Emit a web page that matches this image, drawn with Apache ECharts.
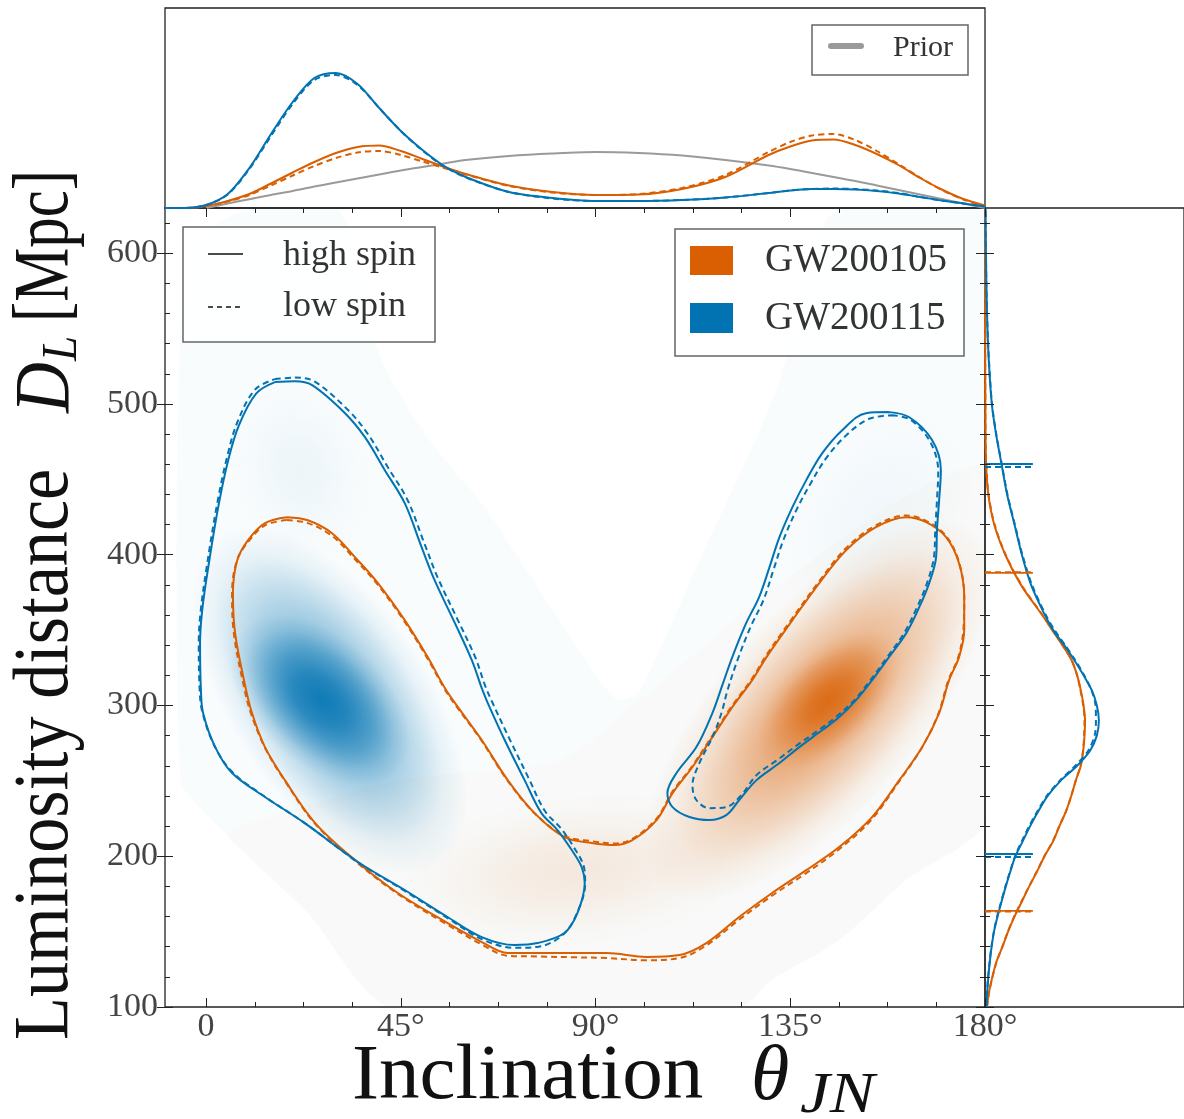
<!DOCTYPE html>
<html>
<head>
<meta charset="utf-8">
<script src="https://cdn.jsdelivr.net/npm/echarts@6/dist/echarts.min.js"></script>
<style>
  html, body { margin: 0; padding: 0; background: #ffffff; }
  #chart { width: 1184px; height: 1119px; }
</style>
</head>
<body>
<div id="chart"></div>
<script>
// ---------------- axis ticks ----------------
const xTickValues = [0, 45, 90, 135, 180];
const xTickLabels = ['0', '45°', '90°', '135°', '180°'];
const xMinorTicks = [11.25, 22.5, 33.75, 56.25, 67.5, 78.75, 101.25, 112.5, 123.75, 146.25, 157.5, 168.75];
const yTickValues = [100, 200, 300, 400, 500, 600];
const yTickLabels = ['100', '200', '300', '400', '500', '600'];
const yMinorTicks = [120, 140, 160, 180, 220, 240, 260, 280, 320, 340, 360, 380, 420, 440, 460, 480, 520, 540, 560, 580, 620];

// ---------------- 90% credible contours [theta_JN (deg), D_L (Mpc)] ----------------
const gw200115HighLeft = [[15.9,514.5],[20.5,515.1],[24.5,512.5],[32.1,493.9],[36.7,478.0],[41.3,456.1],[45.9,434.2],[49.8,405.0],[52.8,383.1],[57.5,354.6],[61.4,330.1],[63.7,311.5],[65.1,301.6],[69.0,277.1],[73.6,250.5],[77.5,228.6],[81.2,217.4],[84.5,204.1],[86.8,192.8],[87.5,182.2],[85.8,162.3],[82.8,149.1],[76.6,142.4],[71.3,141.1],[63.7,146.4],[55.8,159.7],[45.9,177.6],[35.1,196.2],[22.8,222.0],[13.6,239.3],[6.0,255.2],[2.1,272.4],[-0.7,295.0],[-1.2,310.2],[-1.4,341.4],[-0.9,363.3],[0.5,391.8],[2.8,431.6],[5.1,462.7],[7.6,486.0],[11.6,507.0]];
const gw200115LowLeft = [[15.9,516.5],[20.5,517.5],[25.0,515.0],[32.8,496.0],[37.4,480.0],[42.0,458.0],[46.6,436.0],[50.5,407.0],[53.5,385.0],[58.2,356.5],[62.2,332.0],[64.5,313.0],[66.0,303.0],[70.0,278.5],[74.5,252.0],[78.3,230.0],[82.0,218.5],[85.2,205.0],[87.3,193.0],[87.6,182.0],[85.5,161.0],[82.3,147.5],[76.8,140.0],[71.3,139.3],[63.7,145.0],[55.8,159.0],[45.9,177.0],[35.1,196.0],[22.8,222.0],[13.6,239.5],[6.0,256.0],[1.8,274.0],[-0.9,296.0],[-1.5,311.0],[-1.7,342.0],[-1.2,364.0],[0.2,393.0],[2.5,433.0],[4.9,465.5],[7.3,488.5],[11.3,509.5]];
const gw200115HighRight = [[157.8,494.6],[162.5,491.2],[167.8,476.0],[169.8,456.1],[169.4,436.2],[168.9,416.3],[168.7,398.4],[167.1,381.2],[164.8,365.2],[161.8,348.0],[157.8,332.1],[153.9,316.8],[150.2,303.6],[146.3,292.3],[142.4,283.7],[137.1,272.4],[132.5,261.8],[127.2,250.5],[123.2,237.3],[120.2,227.3],[116.3,224.0],[111.7,226.0],[107.8,232.6],[106.6,241.9],[108.7,255.2],[113.3,272.4],[117.0,295.0],[119.3,313.5],[121.6,332.1],[124.8,354.6],[127.8,371.9],[130.2,391.8],[132.5,411.7],[135.5,431.6],[138.7,449.5],[142.4,467.4],[147.0,482.6],[152.5,493.9]];
const gw200115LowRight = [[158.5,492.6],[162.9,489.3],[167.5,474.0],[169.2,454.8],[168.9,436.2],[168.5,416.3],[168.2,398.4],[166.6,381.2],[164.3,365.2],[161.3,348.0],[157.4,332.1],[153.5,316.8],[149.8,303.6],[145.8,293.0],[141.9,284.4],[136.6,273.7],[132.0,263.8],[127.2,253.8],[123.7,240.6],[120.2,232.6],[116.3,231.9],[113.3,237.3],[112.4,247.2],[114.0,261.8],[117.0,279.0],[119.1,295.0],[120.5,310.2],[122.8,330.1],[125.8,352.0],[128.8,369.9],[131.1,389.8],[133.4,409.7],[136.4,429.6],[139.6,446.8],[143.3,464.1],[147.7,478.6],[153.0,489.9]];
const gw200105High = [[18.7,424.9],[23.5,422.9],[29.1,414.3],[34.4,398.4],[39.7,381.2],[45.9,356.6],[51.2,332.1],[55.2,311.5],[58.2,298.9],[63.7,277.1],[69.7,250.5],[75.9,228.6],[82.8,212.7],[89.1,208.8],[94.4,207.4],[98.5,210.7],[104.1,224.0],[107.8,241.9],[112.4,259.2],[117.0,279.0],[121.6,298.9],[126.2,316.8],[129.5,332.1],[135.5,356.6],[141.7,381.2],[147.9,403.0],[154.8,418.3],[161.8,424.9],[166.4,421.6],[171.0,411.7],[174.0,394.4],[175.2,371.9],[175.2,350.0],[174.0,332.1],[171.7,316.8],[169.4,295.0],[165.5,272.4],[160.2,250.5],[153.9,226.0],[146.3,206.1],[138.7,190.8],[130.8,175.6],[123.2,159.7],[115.6,142.4],[109.4,134.5],[101.8,133.2],[92.5,135.8],[84.7,135.8],[77.1,135.8],[69.7,135.8],[63.7,143.1],[55.8,155.7],[44.3,175.6],[34.4,197.5],[25.2,222.0],[18.2,250.5],[13.6,272.4],[10.6,295.0],[9.0,313.5],[6.7,348.0],[6.2,374.5],[7.2,396.4],[9.7,409.7],[13.6,421.0]];
const gw200105Low = [[18.7,423.0],[23.5,421.0],[29.1,412.5],[34.4,397.0],[39.7,380.0],[45.9,355.5],[51.2,331.0],[55.2,310.5],[58.2,298.0],[63.7,276.5],[69.7,250.0],[75.9,228.5],[82.8,213.5],[89.1,210.0],[94.4,208.5],[98.5,211.5],[104.1,225.0],[107.8,243.0],[112.4,260.0],[117.0,280.0],[121.6,300.0],[126.2,318.0],[129.5,333.5],[135.5,358.0],[141.7,382.5],[147.9,404.5],[154.8,419.5],[161.8,426.0],[166.4,422.5],[171.0,412.5],[174.0,395.0],[175.2,372.0],[175.0,350.0],[173.8,332.0],[171.5,316.5],[169.2,294.5],[165.3,271.5],[160.0,249.0],[153.7,224.0],[146.0,204.0],[138.5,188.5],[130.6,173.5],[123.0,157.5],[115.4,140.5],[109.4,132.5],[101.8,131.0],[92.5,132.5],[84.7,133.0],[77.1,133.5],[69.7,134.0],[63.7,141.5],[55.8,154.5],[44.3,175.0],[34.4,197.0],[25.2,221.5],[18.2,250.0],[13.6,272.0],[10.4,294.5],[8.7,313.0],[6.4,348.0],[6.0,374.5],[7.1,396.0],[9.7,408.5],[13.6,419.5]];

// ---------------- posterior density (support outline + smooth components) ----------------
// outer support of the joint KDE, [theta_JN, D_L]
const gw200115Support = [[-6.0,548.9],[-1.4,608.6],[7.8,627.2],[30.9,627.2],[40.6,529.0],[52.2,474.0],[63.7,434.2],[75.2,385.1],[82.8,352.0],[90.5,318.8],[95.5,303.6],[100.2,310.2],[114.0,396.4],[131.8,509.2],[139.4,588.7],[145.2,627.2],[180,627.2],[180,224.0],[161.8,184.2],[146.3,144.4],[130.8,117.9],[123.2,100],[42.5,100],[23.5,162.3],[-0.2,228.6],[-6.0,250.5]];
const gw200105Support = [[5.5,217.4],[44.8,250.5],[81.7,263.8],[100.2,303.6],[127.8,369.9],[160.2,436.2],[180,456.1],[180,224.0],[161.8,184.2],[146.3,144.4],[130.8,117.9],[123.2,100],[42.5,100],[23.5,162.3],[5.5,210.7]];
// components: [centre theta, centre D_L, axis-tip theta, axis-tip D_L, width ratio, weight]
const gw200115Components = [
  [28.6, 303.6, 54.0, 193.5, 0.50, 0.62],
  [26.3, 303.6, 44.8, 257.2, 0.60, 0.85],
  [21.7, 456.1, 14.8, 515.8, 0.75, 0.05],
  [155.5, 423.0, 170.0, 500.0, 0.70, 0.035]
];
const gw200105Components = [
  [141.7, 297.0, 178.2, 416.3, 0.42, 0.60],
  [144.0, 303.6, 159.0, 343.4, 0.55, 0.80],
  [86.3, 190.8, 127.8, 204.1, 0.42, 0.11]
];

// ---------------- marginal: inclination ----------------
const thetaGrid = [-9.5,-5,0,5,10,15,20,25,30,35,40,45,50,55,60,70,80,90,100,110,120,130,135,140,145,150,155,160,165,170,175,180];
const thetaGW200115High = [0,0,0.03,0.14,0.40,0.74,1.06,1.30,1.35,1.24,1.00,0.77,0.58,0.42,0.31,0.16,0.10,0.07,0.07,0.08,0.105,0.15,0.175,0.19,0.19,0.185,0.17,0.145,0.11,0.075,0.045,0.015];
const thetaGW200115Low  = [0,0,0.03,0.135,0.39,0.72,1.04,1.28,1.33,1.23,1.00,0.77,0.575,0.415,0.305,0.16,0.095,0.07,0.07,0.08,0.105,0.15,0.175,0.19,0.195,0.19,0.175,0.15,0.11,0.075,0.045,0.015];
const thetaGW200105High = [0,0,0.02,0.07,0.14,0.245,0.355,0.46,0.55,0.61,0.625,0.57,0.49,0.41,0.34,0.225,0.16,0.13,0.135,0.19,0.31,0.53,0.615,0.675,0.685,0.63,0.54,0.43,0.30,0.185,0.09,0.025];
const thetaGW200105Low  = [0,0,0.02,0.065,0.13,0.225,0.325,0.42,0.50,0.555,0.57,0.53,0.465,0.40,0.335,0.22,0.155,0.13,0.14,0.20,0.33,0.56,0.66,0.725,0.74,0.68,0.57,0.44,0.305,0.18,0.085,0.02];
const thetaPrior = [null,null,0,0.045,0.088,0.13,0.17,0.215,0.255,0.295,0.335,0.375,0.41,0.445,0.48,0.52,0.545,0.56,0.55,0.525,0.48,0.425,0.39,0.35,0.31,0.27,0.225,0.18,0.135,0.09,0.045,0];

// ---------------- marginal: luminosity distance ----------------
const dlGrid = [100,110,120,130,140,150,160,170,180,190,200,210,220,230,240,250,260,270,280,290,300,310,320,330,340,350,360,380,400,420,440,460,480,500,530,560,600,630];
const dlGW200115High = [0.008,0.012,0.018,0.026,0.036,0.049,0.068,0.09,0.113,0.138,0.165,0.205,0.245,0.29,0.34,0.41,0.50,0.57,0.607,0.618,0.607,0.58,0.535,0.485,0.43,0.37,0.325,0.25,0.20,0.16,0.12,0.09,0.06,0.037,0.02,0.011,0.005,0.003];
const dlGW200115Low  = [0.007,0.011,0.017,0.025,0.035,0.048,0.066,0.088,0.111,0.136,0.163,0.2,0.24,0.285,0.335,0.405,0.49,0.56,0.595,0.602,0.60,0.578,0.538,0.49,0.435,0.378,0.33,0.255,0.203,0.162,0.122,0.091,0.061,0.038,0.021,0.011,0.005,0.003];
const dlGW200105High = [0.01,0.022,0.04,0.062,0.095,0.125,0.16,0.2,0.24,0.283,0.323,0.37,0.404,0.44,0.468,0.492,0.52,0.533,0.54,0.543,0.535,0.52,0.5,0.47,0.42,0.365,0.31,0.195,0.11,0.05,0.018,0.006,0.003,0.002,0.001,0.001,0.001,0];
const dlGW200105Low  = [0.011,0.023,0.041,0.063,0.094,0.124,0.158,0.198,0.239,0.282,0.322,0.368,0.403,0.44,0.468,0.492,0.518,0.532,0.538,0.54,0.533,0.518,0.5,0.47,0.422,0.368,0.312,0.198,0.112,0.052,0.019,0.007,0.003,0.002,0.001,0.001,0.001,0];
// 90% credible bounds on D_L [lower, upper]
const dlIntervalGW200115High = [201.5, 460.2];
const dlIntervalGW200115Low  = [199.5, 458.2];
const dlIntervalGW200105High = [163.7, 388.0];
const dlIntervalGW200105Low  = [163.3, 388.4];

// ---------------- styling ----------------
const ORANGE = '#d95f02', ORANGE_RGB = '217,95,2';
const BLUE = '#0173b2', BLUE_RGB = '1,115,178';
const SERIF = "'Liberation Serif', 'DejaVu Serif', serif";
const AXIS = '#222';
const DASH = [6, 4];
const BAR_LEN = 0.26;   // length of the credible-bound markers on the density axis

const chart = echarts.init(document.getElementById('chart'), null, { renderer: 'canvas' });

const closeLoop = arr => arr.concat([arr[0]]);
const zip = (xs, ys) => xs.map((x, i) => [x, ys[i]]).filter(p => p[1] !== null);
const zipDL = (ds, ys) => ds.map((d, i) => [ys[i], d]);

function contour(name, pts, color, dashed) {
  return {
    name, type: 'line', xAxisIndex: 0, yAxisIndex: 0, data: closeLoop(pts),
    smooth: 0.35, showSymbol: false, symbol: 'none', clip: false, silent: true, z: 5,
    lineStyle: { color, width: 2, type: dashed ? DASH : 'solid' }
  };
}
function topCurve(name, ys, color, dashed, width) {
  return {
    name, type: 'line', xAxisIndex: 4, yAxisIndex: 7, data: zip(thetaGrid, ys),
    smooth: 0.3, showSymbol: false, symbol: 'none', silent: true, z: 5,
    lineStyle: { color, width: width || 2, type: dashed ? DASH : 'solid' }
  };
}
function rightCurve(name, xs, color, dashed) {
  return {
    name, type: 'line', xAxisIndex: 5, yAxisIndex: 5, data: zipDL(dlGrid, xs),
    smooth: 0.3, showSymbol: false, symbol: 'none', silent: true, z: 5,
    lineStyle: { color, width: 2, type: dashed ? DASH : 'solid' }
  };
}
function boundBars(name, bounds, color, dashed) {
  return bounds.map((d, k) => ({
    name: name + k, type: 'line', xAxisIndex: 5, yAxisIndex: 5,
    data: [[0, d], [BAR_LEN, d]], showSymbol: false, symbol: 'none', silent: true, z: 6,
    lineStyle: { color, width: 1.8, type: dashed ? DASH : 'solid' }
  }));
}
function supportSeries(pts, rgb, alpha) {
  return {
    type: 'custom', xAxisIndex: 0, yAxisIndex: 0, clip: true, silent: true, z: 1,
    data: [[0, 0]],
    renderItem(params, api) {
      return {
        type: 'polygon',
        shape: { points: pts.map(p => api.coord(p)), smooth: 0.25 },
        style: { fill: 'rgba(' + rgb + ',' + alpha + ')' }
      };
    }
  };
}
function componentSeries(comps, rgb) {
  return {
    type: 'custom', xAxisIndex: 0, yAxisIndex: 0, clip: true, silent: true, z: 2,
    data: comps,
    renderItem(params, api) {
      const c = api.coord([api.value(0), api.value(1)]);
      const t = api.coord([api.value(2), api.value(3)]);
      const dx = t[0] - c[0], dy = t[1] - c[1];
      const a = Math.hypot(dx, dy);
      const w = api.value(5);
      const col = k => 'rgba(' + rgb + ',' + (w * k).toFixed(4) + ')';
      return {
        type: 'circle', x: c[0], y: c[1], rotation: -Math.atan2(dy, dx), scaleY: api.value(4),
        shape: { cx: 0, cy: 0, r: a },
        style: {
          fill: {
            type: 'radial', x: 0.5, y: 0.5, r: 0.5,
            colorStops: [
              { offset: 0, color: col(1) },
              { offset: 0.3, color: col(0.8) },
              { offset: 0.6, color: col(0.4) },
              { offset: 0.82, color: col(0.12) },
              { offset: 1, color: col(0) }
            ]
          }
        }
      };
    }
  };
}

const tickLabelStyle = { fontFamily: SERIF, fontSize: 34, color: '#444' };
function xAx(extra) {
  return Object.assign({
    type: 'value', gridIndex: 0, min: -9.5, max: 180, z: 10,
    axisLine: { show: false, onZero: false }, splitLine: { show: false },
    axisLabel: { show: false }
  }, extra);
}
function yAx(extra) {
  return Object.assign({
    type: 'value', gridIndex: 0, min: 100, max: 630, z: 10,
    axisLine: { show: false, onZero: false }, splitLine: { show: false },
    axisLabel: { show: false }
  }, extra);
}
const tick = (len, vals, inside) => ({ show: true, inside, length: len, customValues: vals, lineStyle: { color: AXIS, width: 1 } });

const option = {
  animation: false,
  backgroundColor: '#ffffff',
  grid: [
    { left: 165, top: 208, width: 820, height: 799, show: true, borderColor: AXIS, borderWidth: 1.3, backgroundColor: 'transparent' },
    { left: 165, top: 8, width: 820, height: 200, show: true, borderColor: AXIS, borderWidth: 1.3, backgroundColor: 'transparent' },
    { left: 985, top: 208, width: 215, height: 799, show: true, borderColor: AXIS, borderWidth: 1.3, backgroundColor: 'transparent' }
  ],
  xAxis: [
    xAx({ position: 'bottom', axisTick: tick(9, xTickValues, true),
      axisLabel: Object.assign({ show: true, customValues: xTickValues, margin: 3, showMinLabel: true, showMaxLabel: true,
        formatter: v => xTickLabels[xTickValues.indexOf(v)] }, tickLabelStyle) }),
    xAx({ position: 'bottom', axisTick: tick(5, xMinorTicks, true) }),
    xAx({ position: 'top', axisTick: tick(9, xTickValues, true) }),
    xAx({ position: 'top', axisTick: tick(5, xMinorTicks, true) }),
    { type: 'value', gridIndex: 1, min: -9.5, max: 180, show: false },
    { type: 'value', gridIndex: 2, min: 0, max: 1.08, show: false }
  ],
  yAxis: [
    yAx({ position: 'left', axisTick: tick(8, yTickValues, false),
      axisLabel: Object.assign({ show: true, customValues: yTickValues, margin: 7, showMinLabel: true, showMaxLabel: true,
        formatter: v => yTickLabels[yTickValues.indexOf(v)] }, tickLabelStyle) }),
    yAx({ position: 'left', axisTick: tick(8, yTickValues, true) }),
    yAx({ position: 'left', axisTick: tick(5, yMinorTicks, true) }),
    yAx({ position: 'right', axisTick: tick(9, yTickValues, true) }),
    yAx({ position: 'right', axisTick: tick(5, yMinorTicks, true) }),
    yAx({ gridIndex: 2, position: 'left', axisTick: tick(9, yTickValues, true) }),
    yAx({ gridIndex: 2, position: 'left', axisTick: tick(5, yMinorTicks, true) }),
    { type: 'value', gridIndex: 1, min: 0, max: 2, show: false }
  ],
  series: [
    supportSeries(gw200115Support, BLUE_RGB, 0.022),
    supportSeries(gw200105Support, ORANGE_RGB, 0.02),
    componentSeries(gw200115Components, BLUE_RGB),
    componentSeries(gw200105Components, ORANGE_RGB),
    contour('GW200105 high spin', gw200105High, ORANGE, false),
    contour('GW200105 low spin', gw200105Low, ORANGE, true),
    contour('GW200115 high spin A', gw200115HighLeft, BLUE, false),
    contour('GW200115 low spin A', gw200115LowLeft, BLUE, true),
    contour('GW200115 high spin B', gw200115HighRight, BLUE, false),
    contour('GW200115 low spin B', gw200115LowRight, BLUE, true),
    topCurve('Prior', thetaPrior, '#9a9a9a', false, 2),
    topCurve('GW200105 theta high', thetaGW200105High, ORANGE, false),
    topCurve('GW200105 theta low', thetaGW200105Low, ORANGE, true),
    topCurve('GW200115 theta high', thetaGW200115High, BLUE, false),
    topCurve('GW200115 theta low', thetaGW200115Low, BLUE, true),
    rightCurve('GW200105 dl high', dlGW200105High, ORANGE, false),
    rightCurve('GW200105 dl low', dlGW200105Low, ORANGE, true),
    rightCurve('GW200115 dl high', dlGW200115High, BLUE, false),
    rightCurve('GW200115 dl low', dlGW200115Low, BLUE, true),
    ...boundBars('GW200105 bound high', dlIntervalGW200105High, ORANGE, false),
    ...boundBars('GW200105 bound low', dlIntervalGW200105Low, ORANGE, true),
    ...boundBars('GW200115 bound high', dlIntervalGW200115High, BLUE, false),
    ...boundBars('GW200115 bound low', dlIntervalGW200115Low, BLUE, true)
  ],
  graphic: [
    // axis titles
    { type: 'text', x: 352, y: 1078, scaleX: 1.04, z: 50,
      style: { text: 'Inclination', x: 0, y: 0, fontFamily: SERIF, fontSize: 78, fill: '#111', align: 'left', verticalAlign: 'middle' } },
    { type: 'text', x: 751, y: 1078, z: 50,
      style: { text: 'θ', x: 0, y: 0, fontFamily: SERIF, fontStyle: 'italic', fontSize: 78, fill: '#111', align: 'left', verticalAlign: 'middle' } },
    { type: 'text', x: 800, y: 1097, scaleX: 1.2, z: 50,
      style: { text: 'JN', x: 0, y: 0, fontFamily: SERIF, fontStyle: 'italic', fontSize: 56, fill: '#111', align: 'left', verticalAlign: 'middle' } },
    { type: 'text', x: 47, y: 1040, rotation: Math.PI / 2, scaleX: 0.9, z: 50,
      style: { text: 'Luminosity distance', x: 0, y: 0, fontFamily: SERIF, fontSize: 78, fill: '#111', align: 'left', verticalAlign: 'middle' } },
    { type: 'text', x: 47, y: 413, rotation: Math.PI / 2, scaleX: 0.9, z: 50,
      style: { text: 'D', x: 0, y: 0, fontFamily: SERIF, fontStyle: 'italic', fontSize: 78, fill: '#111', align: 'left', verticalAlign: 'middle' } },
    { type: 'text', x: 63, y: 361, rotation: Math.PI / 2, scaleX: 0.9, z: 50,
      style: { text: 'L', x: 0, y: 0, fontFamily: SERIF, fontStyle: 'italic', fontSize: 50, fill: '#111', align: 'left', verticalAlign: 'middle' } },
    { type: 'text', x: 47, y: 322, rotation: Math.PI / 2, scaleX: 0.78, z: 50,
      style: { text: '[Mpc]', x: 0, y: 0, fontFamily: SERIF, fontSize: 78, fill: '#111', align: 'left', verticalAlign: 'middle' } },

    // spin legend
    { type: 'rect', z: 60, shape: { x: 183, y: 227, width: 252, height: 115 },
      style: { fill: 'rgba(255,255,255,0.8)', stroke: '#666', lineWidth: 1.5 } },
    { type: 'line', z: 61, shape: { x1: 208, y1: 254, x2: 243, y2: 254 }, style: { stroke: '#111', lineWidth: 1.6 } },
    { type: 'line', z: 61, shape: { x1: 208, y1: 307, x2: 243, y2: 307 }, style: { stroke: '#111', lineWidth: 1.6, lineDash: [5, 4] } },
    { type: 'text', z: 61, style: { text: 'high spin', x: 283, y: 256, fontFamily: SERIF, fontSize: 36, fill: '#333', align: 'left', verticalAlign: 'middle' } },
    { type: 'text', z: 61, style: { text: 'low spin', x: 283, y: 307, fontFamily: SERIF, fontSize: 36, fill: '#333', align: 'left', verticalAlign: 'middle' } },

    // event legend
    { type: 'rect', z: 60, shape: { x: 675, y: 229, width: 289, height: 127 },
      style: { fill: 'rgba(255,255,255,0.8)', stroke: '#666', lineWidth: 1.5 } },
    { type: 'rect', z: 61, shape: { x: 690, y: 246, width: 43, height: 29 }, style: { fill: ORANGE } },
    { type: 'rect', z: 61, shape: { x: 690, y: 303, width: 43, height: 30 }, style: { fill: BLUE } },
    { type: 'text', z: 61, style: { text: 'GW200105', x: 765, y: 261, fontFamily: SERIF, fontSize: 39, fill: '#333', align: 'left', verticalAlign: 'middle' } },
    { type: 'text', z: 61, style: { text: 'GW200115', x: 765, y: 319, fontFamily: SERIF, fontSize: 39, fill: '#333', align: 'left', verticalAlign: 'middle' } },

    // prior legend
    { type: 'rect', z: 60, shape: { x: 812, y: 25, width: 156, height: 50 },
      style: { fill: 'rgba(255,255,255,0.8)', stroke: '#666', lineWidth: 1.5 } },
    { type: 'line', z: 61, shape: { x1: 831, y1: 46, x2: 861, y2: 46 }, style: { stroke: '#9a9a9a', lineWidth: 6, lineCap: 'round' } },
    { type: 'text', z: 61, style: { text: 'Prior', x: 893, y: 48, fontFamily: SERIF, fontSize: 30, fill: '#333', align: 'left', verticalAlign: 'middle' } }
  ]
};

chart.setOption(option);
</script>
</body>
</html>
